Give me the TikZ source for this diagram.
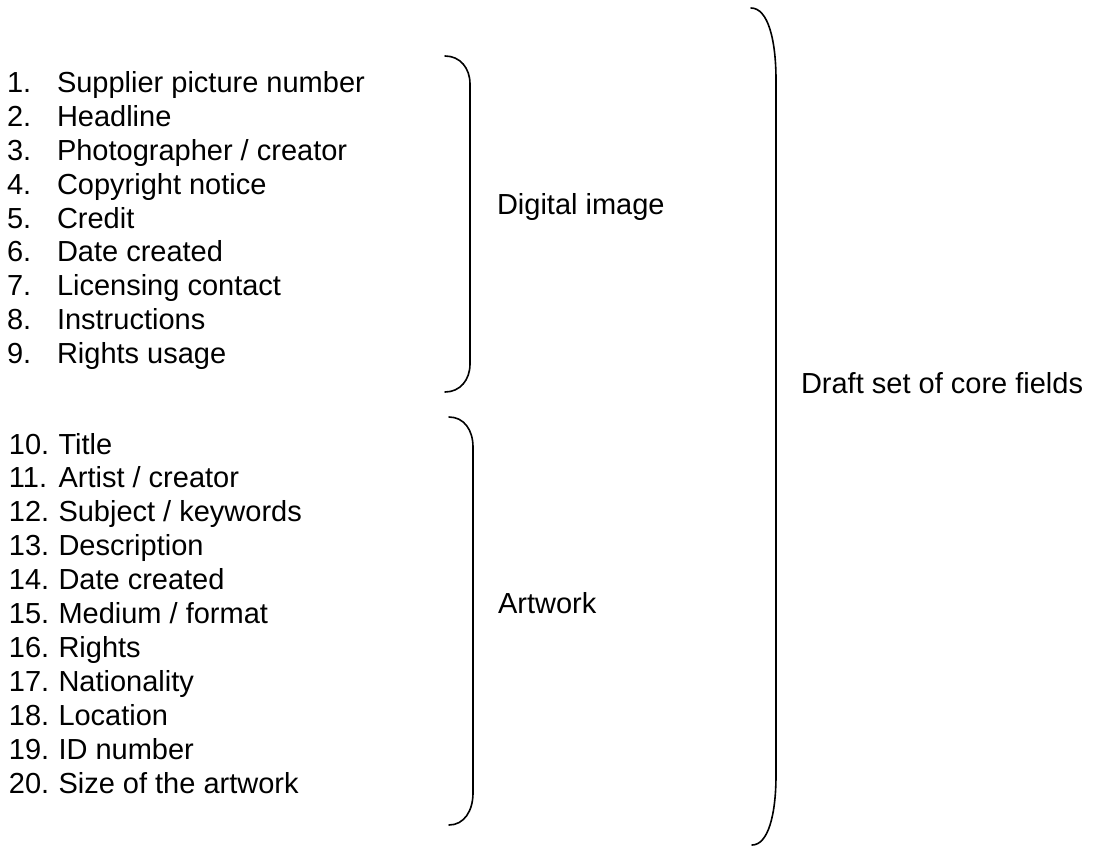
\documentclass[tikz,border=0pt]{standalone}
\usepackage{fontspec}
\setmainfont{Liberation Sans}
\begin{document}
\begin{tikzpicture}[x=1pt,y=-1pt,
  txt/.style={anchor=base west, inner sep=0pt, outer sep=0pt, font=\fontsize{29}{34}\selectfont},
  brk/.style={line width=1.6pt, line cap=round}]
\useasboundingbox (0,0) rectangle (1094,848);
% group 1: digital image fields
\node[txt] (num1) at (7,93)     {1.};  \node[txt] (it1) at (57,93)     {Supplier picture number};
\node[txt] (num2) at (7,126.75) {2.};  \node[txt] (it2) at (57,126.75) {Headline};
\node[txt] (num3) at (7,160.5)  {3.};  \node[txt] (it3) at (57,160.5)  {Photographer / creator};
\node[txt] (num4) at (7,194.25) {4.};  \node[txt] (it4) at (57,194.25) {Copyright notice};
\node[txt] (num5) at (7,228)    {5.};  \node[txt] (it5) at (57,228)    {Credit};
\node[txt] (num6) at (7,261.75) {6.};  \node[txt] (it6) at (57,261.75) {Date created};
\node[txt] (num7) at (7,295.5)  {7.};  \node[txt] (it7) at (57,295.5)  {Licensing contact};
\node[txt] (num8) at (7,329.25) {8.};  \node[txt] (it8) at (57,329.25) {Instructions};
\node[txt] (num9) at (7,363)    {9.};  \node[txt] (it9) at (57,363)    {Rights usage};
% group 2: artwork fields
\node[txt] (num10) at (9,454)   {10.}; \node[txt] (it10) at (58.5,454)   {Title};
\node[txt] (num11) at (9,487.9) {11.}; \node[txt] (it11) at (58.5,487.9) {Artist / creator};
\node[txt] (num12) at (9,521.8) {12.}; \node[txt] (it12) at (58.5,521.8) {Subject / keywords};
\node[txt] (num13) at (9,555.7) {13.}; \node[txt] (it13) at (58.5,555.7) {Description};
\node[txt] (num14) at (9,589.6) {14.}; \node[txt] (it14) at (58.5,589.6) {Date created};
\node[txt] (num15) at (9,623.5) {15.}; \node[txt] (it15) at (58.5,623.5) {Medium / format};
\node[txt] (num16) at (9,657.4) {16.}; \node[txt] (it16) at (58.5,657.4) {Rights};
\node[txt] (num17) at (9,691.3) {17.}; \node[txt] (it17) at (58.5,691.3) {Nationality};
\node[txt] (num18) at (9,725.2) {18.}; \node[txt] (it18) at (58.5,725.2) {Location};
\node[txt] (num19) at (9,759.1) {19.}; \node[txt] (it19) at (58.5,759.1) {ID number};
\node[txt] (num20) at (9,793)   {20.}; \node[txt] (it20) at (58.5,793)   {Size of the artwork};
% group labels
\node[txt] (digital) at (497,214) {Digital image};
\node[txt] (artwork) at (498,613) {Artwork};
\node[txt] (draft)   at (801,393) {Draft set of core fields};
% brackets
\draw[brk] (445,56) .. controls (460,56) and (470,68) .. (470,84) -- (470,364)
  .. controls (470,380) and (460,392) .. (445,392);
\draw[brk] (449,417) .. controls (464,417) and (473,430) .. (473,447) -- (473,793)
  .. controls (473,811) and (464,825) .. (449,825);
\draw[brk] (751,8) .. controls (768,8) and (776,40) .. (776,80) -- (776,775)
  .. controls (776,815) and (768,845) .. (752,845);
\end{tikzpicture}
\end{document}
